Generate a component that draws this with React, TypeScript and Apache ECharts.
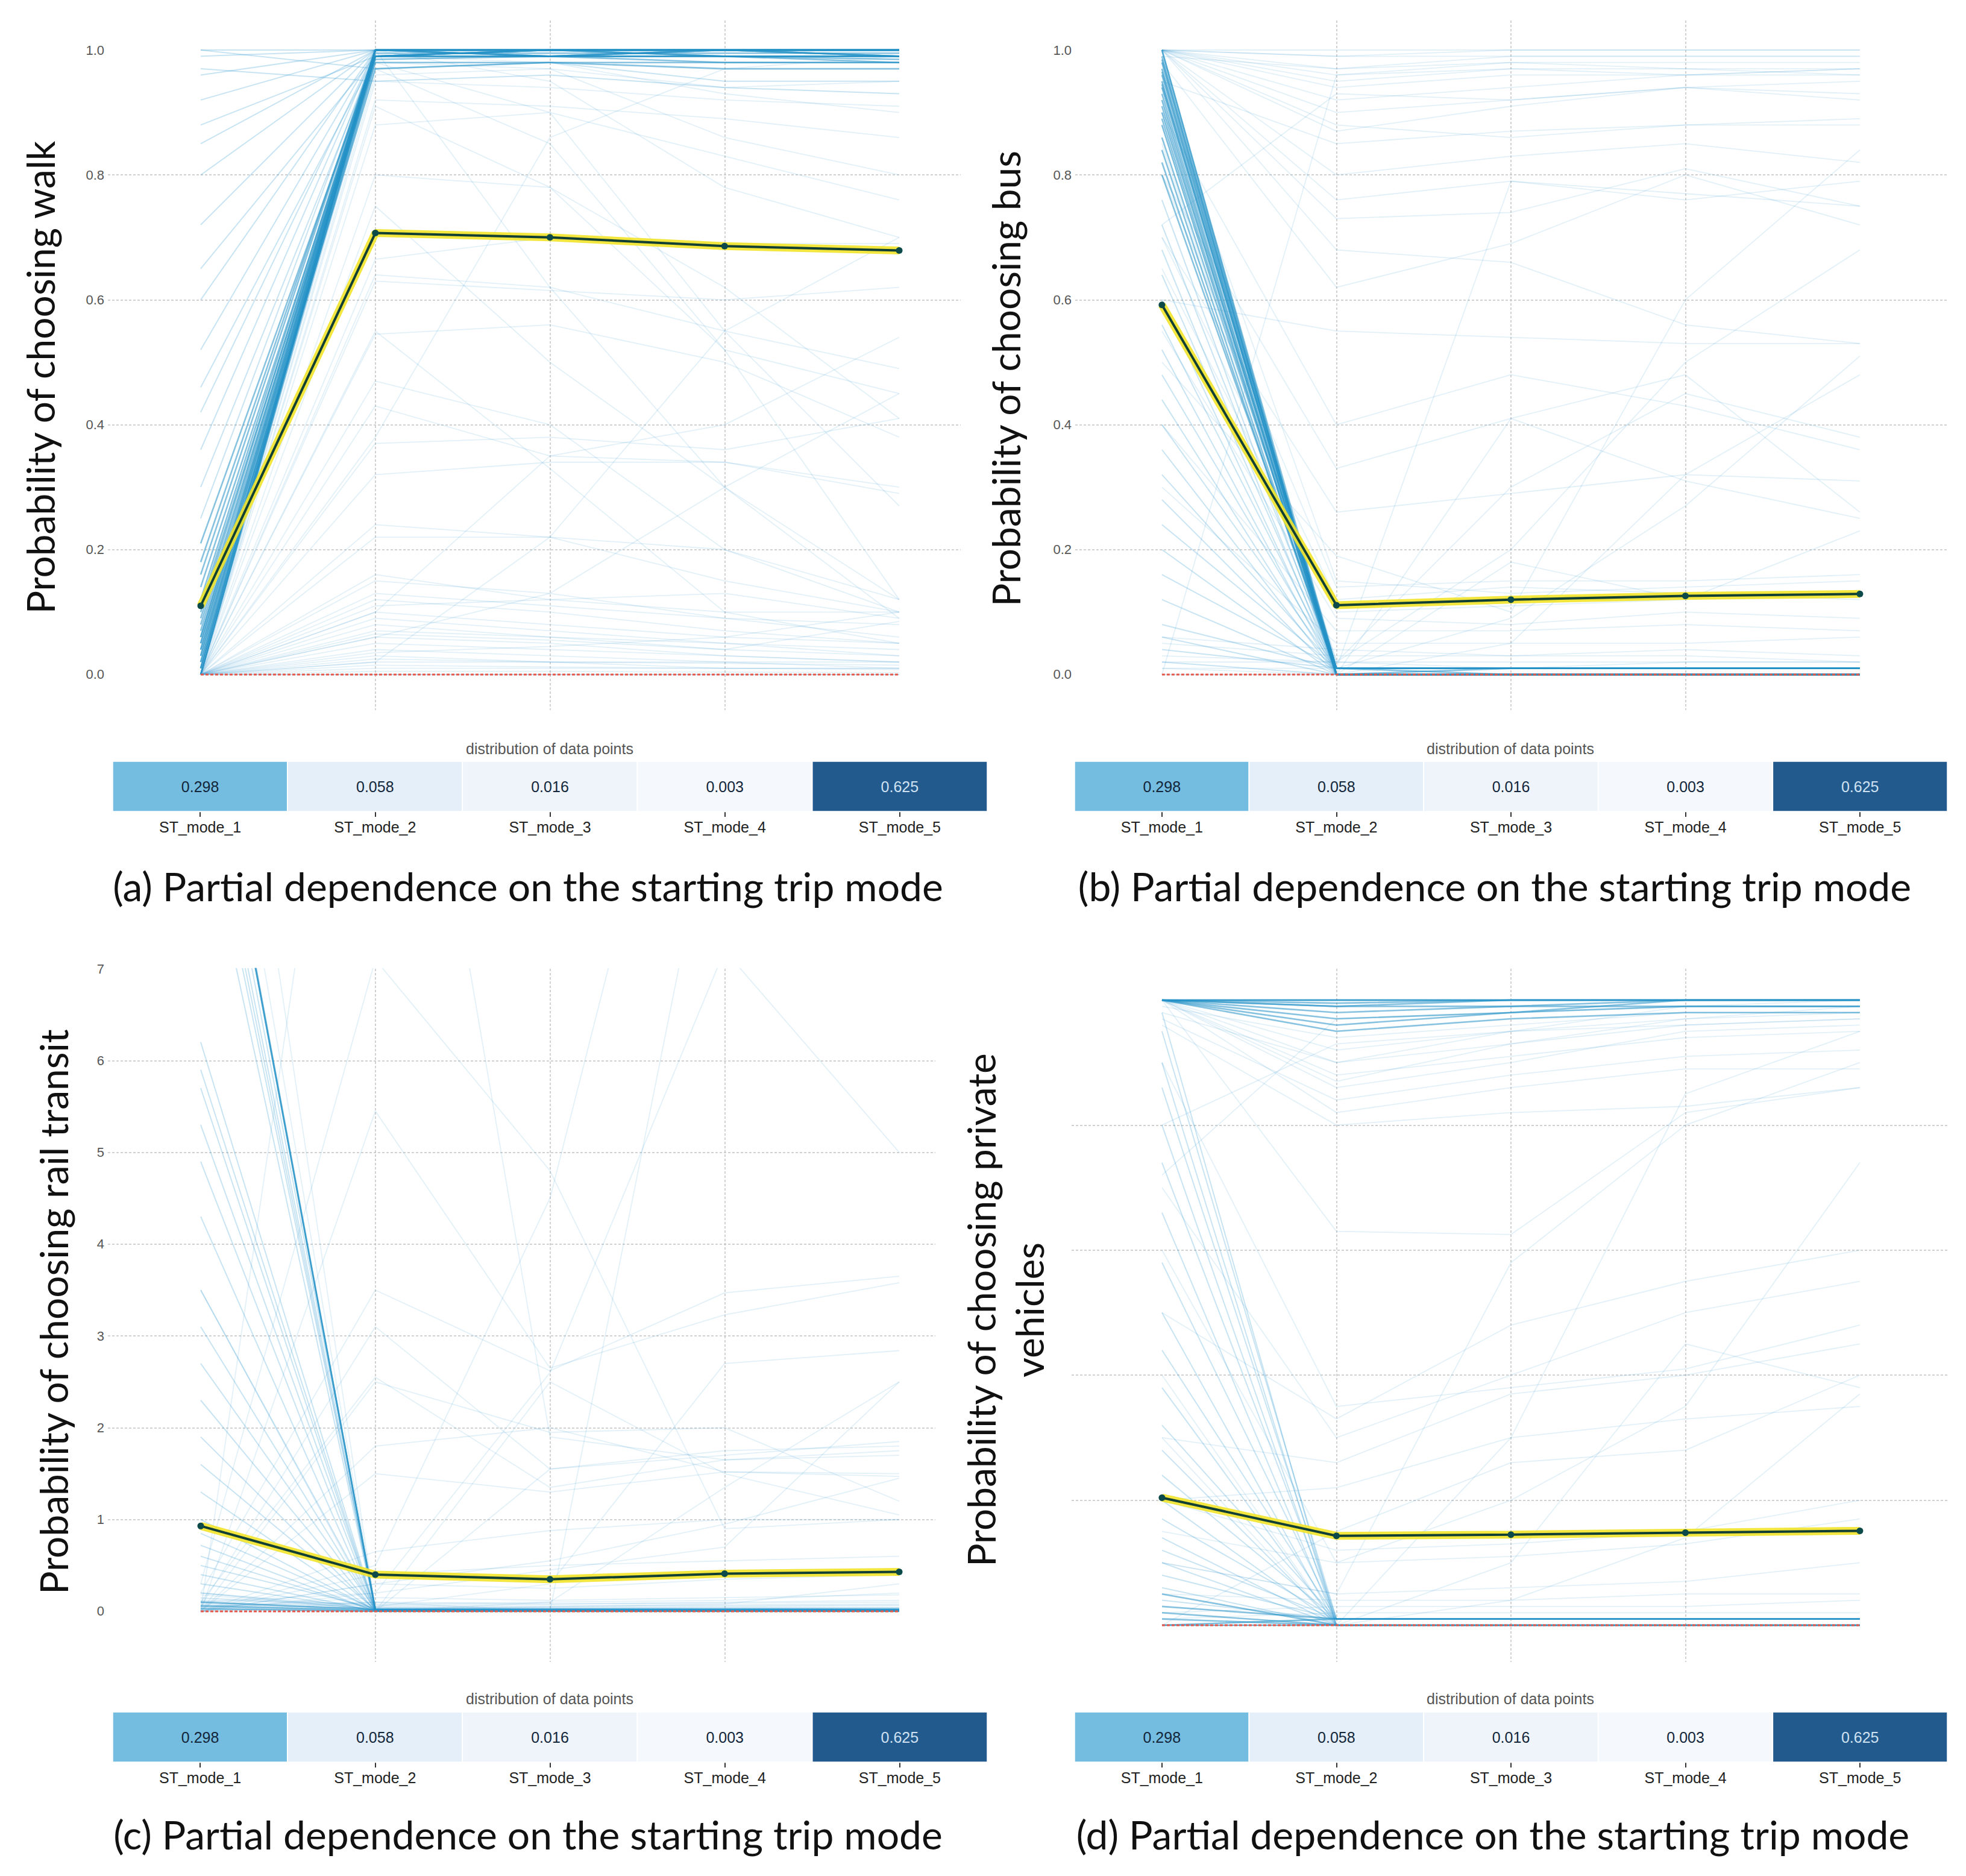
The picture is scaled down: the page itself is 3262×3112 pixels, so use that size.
import React, { useEffect, useRef } from "react";
import * as echarts from "echarts";

// ---------------- data ----------------
const modeLabels = ["ST_mode_1", "ST_mode_2", "ST_mode_3", "ST_mode_4", "ST_mode_5"];
const distValues = [0.298, 0.058, 0.016, 0.003, 0.625];
const distColors = ["#74bde0", "#e4eff9", "#eef4fa", "#f5f9fd", "#235a8d"];
const unitTicks = [0, 0.2, 0.4, 0.6, 0.8, 1.0];
const railTicks = [0, 1, 2, 3, 4, 5, 6, 7];
const zeroLine = [0, 0, 0, 0, 0];

const captions = [
  "(a) Partial dependence on the starting trip mode",
  "(b) Partial dependence on the starting trip mode",
  "(c) Partial dependence on the starting trip mode",
  "(d) Partial dependence on the starting trip mode",
];
const yTitles = [
  "Probability of choosing walk",
  "Probability of choosing bus",
  "Probability of choosing rail transit",
  "Probability of choosing private\nvehicles",
];
const distTitle = "distribution of data points";

// (a) walk
const walkPdp = [0.11, 0.707, 0.7, 0.686, 0.679];
const walkBundle = [
  [0.0, 1.0, 1.0, 1.0, 1.0], [0.0, 1.0, 1.0, 1.0, 1.0], [0.01, 1.0, 1.0, 1.0, 1.0],
  [0.01, 1.0, 0.99, 1.0, 1.0], [0.02, 1.0, 1.0, 1.0, 0.99], [0.03, 0.99, 1.0, 1.0, 1.0],
  [0.04, 1.0, 1.0, 0.99, 0.99], [0.05, 1.0, 1.0, 1.0, 1.0], [0.06, 0.99, 0.99, 0.99, 0.98],
  [0.07, 1.0, 1.0, 1.0, 1.0], [0.08, 1.0, 0.99, 1.0, 0.99], [0.09, 0.99, 1.0, 0.99, 0.99],
  [0.1, 1.0, 1.0, 1.0, 1.0], [0.12, 1.0, 1.0, 1.0, 0.99], [0.14, 0.99, 0.99, 0.98, 0.98],
  [0.16, 1.0, 1.0, 1.0, 1.0], [0.18, 1.0, 0.99, 0.99, 0.99], [0.21, 0.99, 1.0, 1.0, 1.0],
  [0.02, 0.98, 0.98, 0.97, 0.97], [0.04, 0.97, 0.98, 0.98, 0.98], [0.0, 0.99, 1.0, 1.0, 1.0],
  [0.03, 1.0, 1.0, 1.0, 1.0], [0.06, 1.0, 1.0, 1.0, 1.0], [0.11, 0.99, 0.99, 1.0, 1.0],
  [0.01, 0.995, 0.995, 0.995, 0.995], [0.05, 0.985, 0.99, 0.99, 0.985],
];
const walkFan = [
  [0.25, 1.0, 1.0, 1.0, 1.0], [0.3, 0.99, 1.0, 0.99, 0.99], [0.36, 1.0, 1.0, 1.0, 1.0],
  [0.42, 1.0, 0.99, 1.0, 1.0], [0.46, 0.99, 0.99, 0.99, 0.99], [0.52, 1.0, 1.0, 1.0, 1.0],
  [0.6, 1.0, 1.0, 0.99, 0.99], [0.65, 0.99, 1.0, 1.0, 1.0], [0.72, 1.0, 1.0, 1.0, 1.0],
  [0.8, 1.0, 0.99, 0.99, 0.99], [0.85, 1.0, 1.0, 1.0, 1.0], [0.88, 0.99, 1.0, 1.0, 1.0],
  [0.92, 1.0, 1.0, 1.0, 1.0], [0.96, 1.0, 1.0, 1.0, 1.0], [0.99, 1.0, 1.0, 1.0, 1.0],
  [1.0, 1.0, 1.0, 1.0, 1.0], [1.0, 0.97, 0.98, 0.95, 0.95], [0.97, 0.95, 0.96, 0.94, 0.93],
];
const walkOther = [
  [0.0, 0.99, 0.98, 0.93, 0.9], [0.0, 0.98, 0.97, 0.86, 0.8], [0.02, 1.0, 0.95, 0.78, 0.7],
  [0.0, 0.98, 0.9, 0.55, 0.27], [0.01, 0.97, 0.85, 0.52, 0.12], [0.0, 1.0, 0.62, 0.3, 0.12],
  [0.0, 0.96, 0.97, 0.94, 0.95], [0.0, 0.95, 0.94, 0.92, 0.91], [0.0, 0.92, 0.91, 0.89, 0.86],
  [0.0, 0.91, 0.78, 0.62, 0.41], [0.0, 0.88, 0.9, 0.83, 0.76], [0.0, 0.8, 0.78, 0.52, 0.45],
  [0.0, 0.75, 0.5, 0.3, 0.09], [0.0, 0.665, 0.7, 0.69, 0.69], [0.0, 0.64, 0.62, 0.55, 0.49],
  [0.0, 0.63, 0.615, 0.6, 0.62], [0.0, 0.545, 0.56, 0.5, 0.38], [0.0, 0.47, 0.4, 0.2, 0.1],
  [0.0, 0.43, 0.35, 0.34, 0.3], [0.0, 0.37, 0.38, 0.36, 0.41], [0.0, 0.32, 0.34, 0.34, 0.29],
  [0.0, 0.55, 0.33, 0.1, 0.05], [0.0, 0.24, 0.22, 0.2, 0.12], [0.0, 0.22, 0.22, 0.15, 0.1],
  [0.0, 0.02, 0.22, 0.55, 0.7], [0.0, 0.1, 0.35, 0.4, 0.54], [0.0, 0.06, 0.13, 0.3, 0.45],
  [0.0, 0.38, 0.86, 0.97, 0.99], [0.0, 0.16, 0.12, 0.1, 0.1], [0.0, 0.15, 0.13, 0.09, 0.06],
  [0.0, 0.13, 0.11, 0.09, 0.08], [0.0, 0.12, 0.1, 0.07, 0.05], [0.0, 0.1, 0.08, 0.06, 0.05],
  [0.0, 0.09, 0.07, 0.05, 0.03], [0.0, 0.08, 0.06, 0.04, 0.03], [0.0, 0.07, 0.06, 0.05, 0.04],
  [0.0, 0.06, 0.05, 0.03, 0.02], [0.0, 0.05, 0.04, 0.03, 0.02], [0.0, 0.04, 0.03, 0.02, 0.02],
  [0.0, 0.03, 0.02, 0.02, 0.01], [0.0, 0.02, 0.02, 0.01, 0.01], [0.0, 0.01, 0.01, 0.01, 0.01],
  [0.0, 0.005, 0.005, 0.004, 0.003], [0.0, 0.0, 0.0, 0.0, 0.0], [0.0, 0.0, 0.0, 0.0, 0.0],
  [0.0, 0.065, 0.055, 0.04, 0.085], [0.0, 0.035, 0.045, 0.06, 0.1], [0.0, 0.11, 0.12, 0.13, 0.09],
  [0.0, 0.015, 0.012, 0.01, 0.008], [0.0, 0.025, 0.02, 0.018, 0.015], [0.0, 0.0, 0.0, 0.0, 0.0],
];

// (b) bus
const busPdp = [0.592, 0.111, 0.12, 0.126, 0.129];
const busBundle = [
  [1.0, 0.0, 0.0, 0.0, 0.0], [1.0, 0.01, 0.01, 0.01, 0.01], [0.99, 0.0, 0.0, 0.0, 0.0],
  [0.98, 0.0, 0.0, 0.0, 0.0], [0.97, 0.01, 0.01, 0.01, 0.01], [0.96, 0.0, 0.0, 0.0, 0.0],
  [0.95, 0.0, 0.0, 0.0, 0.0], [0.94, 0.01, 0.01, 0.01, 0.01], [0.93, 0.0, 0.0, 0.0, 0.0],
  [0.92, 0.0, 0.01, 0.01, 0.01], [0.91, 0.0, 0.0, 0.0, 0.0], [0.9, 0.01, 0.01, 0.01, 0.01],
  [0.89, 0.0, 0.0, 0.0, 0.0], [0.88, 0.0, 0.0, 0.0, 0.0], [0.86, 0.01, 0.01, 0.01, 0.01],
  [0.84, 0.0, 0.0, 0.0, 0.0], [0.82, 0.0, 0.0, 0.0, 0.0], [0.8, 0.01, 0.01, 0.01, 0.01],
  [0.985, 0.0, 0.0, 0.0, 0.0], [0.965, 0.0, 0.0, 0.0, 0.0], [0.945, 0.01, 0.0, 0.0, 0.0],
];
const busFan = [
  [0.76, 0.0, 0.0, 0.0, 0.0], [0.72, 0.01, 0.01, 0.01, 0.01], [0.68, 0.0, 0.0, 0.0, 0.0],
  [0.64, 0.01, 0.01, 0.01, 0.01], [0.6, 0.0, 0.0, 0.0, 0.0], [0.56, 0.01, 0.01, 0.01, 0.01],
  [0.52, 0.0, 0.0, 0.0, 0.0], [0.48, 0.01, 0.01, 0.01, 0.01], [0.44, 0.0, 0.0, 0.0, 0.0],
  [0.4, 0.01, 0.01, 0.01, 0.01], [0.36, 0.0, 0.0, 0.0, 0.0], [0.32, 0.01, 0.01, 0.01, 0.01],
  [0.28, 0.0, 0.0, 0.0, 0.0], [0.24, 0.01, 0.01, 0.01, 0.01], [0.2, 0.0, 0.0, 0.0, 0.0],
  [0.16, 0.01, 0.01, 0.01, 0.01], [0.12, 0.0, 0.0, 0.0, 0.0], [0.08, 0.01, 0.01, 0.01, 0.01],
  [0.06, 0.0, 0.0, 0.0, 0.0], [0.04, 0.01, 0.01, 0.01, 0.01], [0.02, 0.0, 0.0, 0.0, 0.0],
];
const busOther = [
  [1.0, 1.0, 1.0, 1.0, 1.0], [1.0, 0.99, 1.0, 1.0, 1.0], [1.0, 0.99, 0.99, 0.99, 0.99],
  [1.0, 0.97, 0.98, 0.98, 0.98], [1.0, 0.96, 0.98, 0.97, 0.97], [1.0, 0.95, 0.97, 0.97, 0.96],
  [1.0, 0.94, 0.96, 0.96, 0.97], [0.99, 0.97, 0.99, 0.99, 0.99], [1.0, 0.92, 0.94, 0.96, 0.96],
  [1.0, 0.9, 0.92, 0.94, 0.93], [1.0, 0.87, 0.91, 0.94, 0.95], [0.95, 0.85, 0.87, 0.88, 0.89],
  [1.0, 0.88, 0.86, 0.88, 0.88], [1.0, 0.8, 0.83, 0.85, 0.82], [1.0, 0.76, 0.79, 0.77, 0.75],
  [1.0, 0.73, 0.74, 0.81, 0.75], [0.98, 0.62, 0.69, 0.8, 0.72], [1.0, 0.68, 0.66, 0.56, 0.53],
  [0.9, 0.4, 0.48, 0.43, 0.36], [0.8, 0.33, 0.41, 0.31, 0.25], [0.7, 0.26, 0.29, 0.32, 0.31],
  [0.0, 0.96, 0.97, 0.96, 0.97], [0.72, 0.93, 0.92, 0.94, 0.92], [0.95, 0.02, 0.2, 0.5, 0.68],
  [0.98, 0.0, 0.05, 0.32, 0.48], [0.9, 0.02, 0.3, 0.45, 0.38], [0.85, 0.01, 0.09, 0.27, 0.51],
  [0.97, 0.0, 0.41, 0.48, 0.26], [0.92, 0.01, 0.79, 0.76, 0.79], [0.88, 0.0, 0.18, 0.12, 0.23],
  [0.6, 0.55, 0.54, 0.53, 0.53], [0.5, 0.19, 0.1, 0.6, 0.84], [0.94, 0.15, 0.13, 0.14, 0.15],
  [0.8, 0.14, 0.15, 0.15, 0.16], [0.7, 0.12, 0.14, 0.13, 0.12], [0.65, 0.1, 0.11, 0.12, 0.13],
  [0.55, 0.09, 0.08, 0.1, 0.09], [0.4, 0.07, 0.07, 0.08, 0.07], [0.3, 0.05, 0.05, 0.05, 0.06],
  [0.06, 0.04, 0.03, 0.04, 0.03], [0.05, 0.03, 0.03, 0.03, 0.02], [0.03, 0.02, 0.02, 0.02, 0.02],
  [0.02, 0.02, 0.01, 0.02, 0.02], [0.01, 0.01, 0.01, 0.01, 0.01], [0.01, 0.0, 0.0, 0.0, 0.0],
  [0.0, 0.0, 0.0, 0.0, 0.0], [0.0, 0.0, 0.0, 0.0, 0.0],
];

// (c) rail transit
const railPdp = [0.93, 0.4, 0.35, 0.41, 0.43];
const railBundle = [
  [10.2, 0.02, 0.01, 0.01, 0.01], [10.2, 0.02, 0.01, 0.01, 0.01], [10.25, 0.02, 0.01, 0.01, 0.01],
  [0.1, 0.02, 0.02, 0.02, 0.02], [0.06, 0.01, 0.01, 0.01, 0.01], [0.03, 0.0, 0.0, 0.0, 0.0],
];
const railFan = [
  [9.9, 0.03, 0.02, 0.02, 0.02], [9.6, 0.01, 0.01, 0.01, 0.01], [9.2, 0.02, 0.02, 0.01, 0.02],
  [8.8, 0.0, 0.0, 0.0, 0.0], [9.4, 0.01, 0.01, 0.01, 0.01],
  [6.2, 0.02, 0.02, 0.02, 0.02], [5.9, 0.01, 0.01, 0.01, 0.01], [5.7, 0.0, 0.0, 0.0, 0.0],
  [5.3, 0.02, 0.02, 0.02, 0.02], [4.9, 0.01, 0.01, 0.01, 0.01], [4.3, 0.0, 0.0, 0.0, 0.0],
  [3.5, 0.03, 0.03, 0.03, 0.03], [3.1, 0.01, 0.01, 0.01, 0.01], [2.7, 0.02, 0.02, 0.02, 0.02],
  [2.3, 0.0, 0.0, 0.0, 0.0], [1.9, 0.01, 0.01, 0.01, 0.01], [1.6, 0.02, 0.02, 0.02, 0.02],
  [1.3, 0.0, 0.0, 0.0, 0.0], [1.0, 0.01, 0.01, 0.01, 0.01], [0.85, 0.02, 0.02, 0.02, 0.02],
  [0.72, 0.0, 0.0, 0.0, 0.0], [0.6, 0.01, 0.01, 0.01, 0.01], [0.5, 0.03, 0.03, 0.03, 0.03],
  [0.4, 0.0, 0.0, 0.0, 0.0], [0.3, 0.01, 0.01, 0.01, 0.01], [0.2, 0.02, 0.02, 0.02, 0.02],
];
const railOther = [
  [11.0, 0.04, 0.03, 0.03, 0.03], [12.6, 0.02, 0.02, 0.02, 0.02],
  [0.05, 3.1, 1.55, 1.7, 1.85], [0.1, 2.55, 1.35, 1.65, 1.75], [0.0, 1.8, 2.0, 1.52, 1.47],
  [0.2, 3.5, 2.62, 3.47, 3.65], [0.0, 5.45, 2.65, 3.23, 3.58], [0.3, 7.1, 4.8, 0.9, 1.0],
  [0.0, 0.5, 4.5, 12.0, 9.0], [0.0, 0.2, 2.6, 7.2, 5.0], [0.0, 0.1, 0.0, 9.5, 9.0],
  [3.5, 0.0, 2.5, 1.5, 1.05], [0.0, 2.5, 1.95, 2.0, 1.2], [0.0, 1.5, 1.3, 1.52, 1.5],
  [0.0, 0.0, 1.55, 1.75, 1.8], [0.0, 0.65, 0.88, 1.0, 1.0], [0.0, 0.3, 0.55, 0.95, 1.45],
  [0.1, 0.2, 0.45, 0.7, 2.5], [0.0, 0.05, 0.3, 2.7, 2.84], [0.05, 0.0, 0.1, 1.35, 2.5],
  [0.0, 0.4, 0.5, 0.55, 0.6], [0.0, 0.3, 0.25, 0.35, 0.4], [0.0, 13.0, 1.9, 1.65, 1.7],
  [0.2, 0.05, 0.04, 0.05, 0.06], [0.15, 0.03, 0.03, 0.04, 0.04], [0.1, 0.02, 0.02, 0.03, 0.03],
  [0.08, 0.01, 0.01, 0.02, 0.02], [0.05, 0.01, 0.01, 0.01, 0.01], [0.03, 0.0, 0.0, 0.0, 0.0],
  [0.02, 0.0, 0.0, 0.0, 0.0], [0.06, 0.1, 0.08, 0.1, 0.12], [0.04, 0.15, 0.12, 0.15, 0.18],
  [0.12, 0.08, 0.1, 0.12, 0.2], [0.18, 0.02, 0.05, 0.08, 0.3], [0.07, 0.04, 0.05, 0.06, 0.07],
  [0.09, 0.06, 0.06, 0.07, 0.08], [0.11, 0.02, 0.03, 0.03, 0.04], [0.14, 0.07, 0.08, 0.09, 0.1],
];

// (d) private vehicles
const privPdp = [0.204, 0.143, 0.145, 0.148, 0.151];
const privBundle = [
  [1.0, 1.0, 1.0, 1.0, 1.0], [1.0, 1.0, 1.0, 1.0, 1.0], [1.0, 1.0, 1.0, 1.0, 1.0],
  [1.0, 0.995, 1.0, 1.0, 1.0], [1.0, 0.99, 1.0, 1.0, 1.0], [1.0, 0.99, 0.99, 1.0, 1.0],
  [1.0, 0.98, 0.99, 0.99, 0.99], [1.0, 0.97, 0.98, 1.0, 1.0], [1.0, 0.96, 0.98, 0.99, 0.99],
  [1.0, 0.95, 0.97, 0.98, 0.98],
  [0.02, 0.0, 0.0, 0.0, 0.0], [0.01, 0.0, 0.0, 0.0, 0.0], [0.0, 0.0, 0.0, 0.0, 0.0],
  [0.03, 0.01, 0.01, 0.01, 0.01], [0.05, 0.0, 0.0, 0.0, 0.0], [0.0, 0.01, 0.01, 0.01, 0.01],
];
const privFan = [
  [0.98, 0.0, 0.0, 0.0, 0.0], [0.95, 0.01, 0.01, 0.01, 0.01], [0.9, 0.0, 0.0, 0.0, 0.0],
  [0.86, 0.01, 0.01, 0.01, 0.01], [0.8, 0.0, 0.0, 0.0, 0.0], [0.74, 0.01, 0.01, 0.01, 0.01],
  [0.66, 0.0, 0.0, 0.0, 0.0], [0.58, 0.01, 0.01, 0.01, 0.01], [0.5, 0.0, 0.0, 0.0, 0.0],
  [0.44, 0.01, 0.01, 0.01, 0.01], [0.38, 0.0, 0.0, 0.0, 0.0], [0.32, 0.01, 0.01, 0.01, 0.01],
  [0.28, 0.0, 0.0, 0.0, 0.0], [0.24, 0.01, 0.01, 0.01, 0.01], [0.2, 0.0, 0.0, 0.0, 0.0],
  [0.17, 0.01, 0.01, 0.01, 0.01], [0.14, 0.0, 0.0, 0.0, 0.0], [0.12, 0.01, 0.01, 0.01, 0.01],
  [0.1, 0.0, 0.0, 0.0, 0.0], [0.08, 0.01, 0.01, 0.01, 0.01], [0.06, 0.0, 0.0, 0.0, 0.0],
  [0.04, 0.01, 0.01, 0.01, 0.01],
];
const privOther = [
  [0.99, 0.94, 0.96, 0.98, 0.98], [1.0, 0.92, 0.95, 0.97, 0.98], [0.98, 0.9, 0.93, 0.96, 0.97],
  [1.0, 0.88, 0.91, 0.94, 0.95], [1.0, 0.86, 0.9, 0.95, 0.96], [0.97, 0.84, 0.88, 0.91, 0.92],
  [1.0, 0.82, 0.86, 0.89, 0.89], [0.96, 0.8, 0.82, 0.83, 0.86], [1.0, 0.63, 0.625, 0.82, 0.86],
  [0.72, 0.97, 0.98, 0.99, 0.99], [0.8, 0.93, 0.95, 0.96, 0.97], [0.0, 0.0, 0.3, 0.85, 0.95],
  [0.1, 0.05, 0.58, 0.8, 0.9], [0.5, 0.33, 0.48, 0.55, 0.6], [0.9, 0.35, 0.38, 0.41, 0.48],
  [0.7, 0.3, 0.4, 0.5, 0.55], [0.3, 0.26, 0.37, 0.4, 0.45], [0.2, 0.22, 0.3, 0.33, 0.35],
  [0.6, 0.1, 0.2, 0.35, 0.74], [0.4, 0.0, 0.1, 0.45, 0.38], [0.0, 0.15, 0.26, 0.28, 0.4],
  [0.3, 0.0, 0.04, 0.14, 0.37], [0.2, 0.12, 0.13, 0.15, 0.2], [0.15, 0.1, 0.11, 0.13, 0.17],
  [0.1, 0.05, 0.06, 0.07, 0.1], [0.05, 0.04, 0.04, 0.05, 0.05], [0.02, 0.03, 0.03, 0.03, 0.04],
  [0.01, 0.02, 0.02, 0.02, 0.02], [0.0, 0.01, 0.01, 0.01, 0.01], [0.0, 0.0, 0.0, 0.0, 0.0],
  [1.0, 0.9, 0.95, 0.99, 1.0], [1.0, 0.87, 0.93, 0.97, 0.99],
];

// ---------------- layout / style ----------------
const panels = [
  {
    groups: [walkOther, walkFan, walkBundle], pdp: walkPdp,
    grid: { left: 179, top: 34, width: 1415, height: 1144 },
    xr: [-0.5315, 4.352], yr: [-0.057, 1.0473], ticks: unitTicks, labels: true, dec: 1,
    heat: { left: 187, top: 1263, width: 1451, height: 83 },
    dist: [912, 1242], cap: [876, 1469], title: [66, 626],
  },
  {
    groups: [busOther, busFan, busBundle], pdp: busPdp,
    grid: { left: 1784, top: 34, width: 1449, height: 1144 },
    xr: [-0.497, 4.508], yr: [-0.057, 1.0473], ticks: unitTicks, labels: true, dec: 1,
    heat: { left: 1783, top: 1263, width: 1448, height: 83 },
    dist: [2506, 1242], cap: [2480, 1469], title: [1668, 628],
  },
  {
    groups: [railOther, railFan, railBundle], pdp: railPdp,
    grid: { left: 179, top: 1607, width: 1373, height: 1150 },
    xr: [-0.5315, 4.207], yr: [-0.5516, 7], ticks: railTicks, labels: true, dec: 0,
    heat: { left: 187, top: 2840, width: 1451, height: 83 },
    dist: [912, 2818], cap: [876, 3042], title: [88, 2176],
  },
  {
    groups: [privOther, privFan, privBundle], pdp: privPdp,
    grid: { left: 1778, top: 1607, width: 1455, height: 1150 },
    xr: [-0.518, 4.508], yr: [-0.0588, 1.0501], ticks: unitTicks, labels: false, dec: 1,
    heat: { left: 1783, top: 2840, width: 1448, height: 83 },
    dist: [2506, 2818], cap: [2477, 3042], title: [1667, 2173],
  },
];

const groupStyles = [
  { color: "#4aa3d2", width: 1.8, opacity: 0.16 },
  { color: "#2a98cf", width: 2, opacity: 0.26 },
  { color: "#2591c6", width: 2.6, opacity: 0.55 },
];

function buildOption() {
  const grid: any[] = [];
  const xAxis: any[] = [];
  const yAxis: any[] = [];
  const series: any[] = [];
  const graphic: any[] = [];
  const heatIdx: number[] = [];

  panels.forEach((p, i) => {
    grid.push({ ...p.grid, containLabel: false });
    xAxis.push({
      gridIndex: i, type: "value", min: p.xr[0], max: p.xr[1],
      axisLine: { show: false },
      axisTick: { show: false, customValues: [0, 1, 2, 3, 4] },
      axisLabel: { show: false, customValues: [0, 1, 2, 3, 4] },
      splitLine: { show: true, showMinLine: false, showMaxLine: false, lineStyle: { color: "#c2c2c2", type: [4, 3], width: 1.5 } },
    });
    yAxis.push({
      gridIndex: i, type: "value", min: p.yr[0], max: p.yr[1],
      axisLine: { show: false },
      axisTick: { show: false, customValues: p.ticks },
      axisLabel: {
        show: p.labels, customValues: p.ticks, margin: 6,
        formatter: (v: number) => v.toFixed(p.dec),
        fontFamily: "Liberation Sans", fontSize: 22, color: "#555",
      },
      splitLine: { show: true, showMinLine: false, showMaxLine: false, lineStyle: { color: "#c2c2c2", type: [4, 3], width: 1.5 } },
    });
    p.groups.forEach((g, gi) => {
      g.forEach((vals) => {
        series.push({
          type: "line", xAxisIndex: i, yAxisIndex: i, silent: true, clip: true,
          symbol: "none", z: 2 + gi * 0.1,
          data: vals.map((v, k) => [k, v]),
          lineStyle: groupStyles[gi],
        });
      });
    });
    series.push({
      type: "line", xAxisIndex: i, yAxisIndex: i, silent: true, symbol: "none", z: 4,
      data: zeroLine.map((v, k) => [k, v]),
      lineStyle: { color: "#e4584a", width: 3, type: [5, 3] },
    });
    series.push({
      type: "line", xAxisIndex: i, yAxisIndex: i, silent: true, symbol: "none", z: 5,
      data: p.pdp.map((v, k) => [k, v]),
      lineStyle: { color: "#f1e32a", width: 13, opacity: 0.9 },
    });
    series.push({
      type: "line", xAxisIndex: i, yAxisIndex: i, silent: true, z: 6,
      symbol: "circle", symbolSize: 11,
      data: p.pdp.map((v, k) => [k, v]),
      itemStyle: { color: "#0c4a4a" },
      lineStyle: { color: "#123f33", width: 4 },
    });

    graphic.push({
      type: "text", x: p.title[0], y: p.title[1], rotation: Math.PI / 2,
      style: {
        text: yTitles[i], font: "64px Lato", fill: "#111",
        textAlign: "center", textVerticalAlign: "middle", lineHeight: 80,
      },
    });
    graphic.push({
      type: "text", x: p.cap[0], y: p.cap[1],
      style: { text: captions[i], font: "66px Lato", fill: "#111", textAlign: "center", textVerticalAlign: "middle" },
    });
    graphic.push({
      type: "text", x: p.dist[0], y: p.dist[1],
      style: { text: distTitle, font: "25px 'Liberation Sans'", fill: "#555", textAlign: "center", textVerticalAlign: "middle" },
    });
  });

  panels.forEach((p, i) => {
    const gi = 4 + i;
    grid.push({ ...p.heat, containLabel: false });
    xAxis.push({
      gridIndex: gi, type: "category", data: modeLabels,
      axisLine: { show: false },
      axisTick: { show: true, alignWithLabel: true, length: 9, lineStyle: { color: "#333", width: 2 } },
      axisLabel: { fontFamily: "Liberation Sans", fontSize: 25, color: "#222", margin: 13 },
      splitLine: { show: false },
    });
    yAxis.push({
      gridIndex: gi, type: "category", data: ["dist"], show: false,
    });
    heatIdx.push(series.length);
    series.push({
      type: "heatmap", xAxisIndex: gi, yAxisIndex: gi, silent: true,
      data: distValues.map((v, k) => ({
        value: [k, 0, v],
        label: { color: k === 4 ? "#cfe2f3" : "#13263a" },
      })),
      itemStyle: { borderColor: "#ffffff", borderWidth: 2 },
      label: {
        show: true, fontFamily: "Liberation Sans", fontSize: 25,
        formatter: (pp: any) => pp.value[2].toFixed(3),
      },
    });
  });

  return {
    animation: false,
    backgroundColor: "#ffffff",
    grid, xAxis, yAxis, series, graphic,
    visualMap: {
      type: "piecewise", show: false, seriesIndex: heatIdx, dimension: 2,
      pieces: distValues.map((v, k) => ({ gte: v - 0.0005, lte: v + 0.0005, color: distColors[k] })),
    },
  };
}

export default function App() {
  const ref = useRef<HTMLDivElement>(null);
  useEffect(() => {
    document.body.style.margin = "0";
    if (!ref.current) return;
    const chart = echarts.init(ref.current, undefined, { renderer: "svg" });
    chart.setOption(buildOption() as any);
    return () => chart.dispose();
  }, []);
  return <div ref={ref} style={{ width: 3262, height: 3112 }} />;
}
